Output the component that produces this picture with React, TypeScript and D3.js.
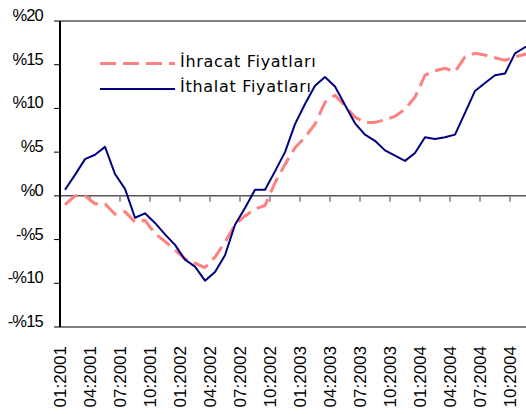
import React from "react";
import * as d3 from "d3";

const categories: string[] = [
  "01:2001","02:2001","03:2001","04:2001","05:2001","06:2001","07:2001","08:2001","09:2001","10:2001","11:2001","12:2001",
  "01:2002","02:2002","03:2002","04:2002","05:2002","06:2002","07:2002","08:2002","09:2002","10:2002","11:2002","12:2002",
  "01:2003","02:2003","03:2003","04:2003","05:2003","06:2003","07:2003","08:2003","09:2003","10:2003","11:2003","12:2003",
  "01:2004","02:2004","03:2004","04:2004","05:2004","06:2004","07:2004","08:2004","09:2004","10:2004","11:2004","12:2004",
];

const ihracat: number[] = [
  -1.0, 0.0, 0.0, -0.9, -0.9, -2.1, -1.8, -3.0, -2.8, -4.3, -5.2, -6.2,
  -7.2, -7.7, -8.2, -7.0, -5.3, -3.3, -2.3, -1.5, -1.1, 1.5, 3.6, 5.5,
  6.7, 8.2, 10.7, 11.5, 10.3, 9.0, 8.4, 8.4, 8.7, 9.1, 9.9, 11.3,
  13.8, 14.3, 14.6, 14.2, 15.9, 16.3, 16.1, 15.8, 15.5, 15.9, 16.2, 16.3,
];

const ithalat: number[] = [
  0.7, 2.4, 4.2, 4.7, 5.6, 2.5, 0.8, -2.5, -2.0, -3.1, -4.4, -5.6,
  -7.3, -8.1, -9.7, -8.7, -6.8, -3.3, -1.4, 0.7, 0.7, 2.8, 5.0, 8.2,
  10.5, 12.6, 13.6, 12.5, 10.4, 8.3, 7.0, 6.3, 5.2, 4.6, 4.0, 4.9,
  6.7, 6.5, 6.7, 7.0, 9.5, 12.0, 12.9, 13.8, 14.0, 16.3, 17.0, 17.5,
];

const yTicks: number[] = [20, 15, 10, 5, 0, -5, -10, -15];
const yTickLabels: string[] = ["%20", "%15", "%10", "%5", "%0", "-%5", "-%10", "-%15"];
const seriesNames: string[] = ["İhracat Fiyatları", "İthalat Fiyatları"];

const W = 526;
const H = 414;
const left = 60;
const right = 540;
const top = 21;
const bottom = 327;

export default function App() {
  const x = d3.scaleBand<string>().domain(categories).range([left, right]).paddingInner(0).paddingOuter(0);
  const bw = x.bandwidth();
  const y = d3.scaleLinear().domain([-15, 20]).range([bottom, top]);
  const cx = (i: number) => (x(categories[i]) as number) + bw / 2;
  const line = d3
    .line<number>()
    .x((_, i) => cx(i))
    .y((d) => y(d));

  const tickCats = categories.filter((_, i) => i % 3 === 0);

  return (
    <svg
      width={W}
      height={H}
      style={{ position: "absolute", left: 0, top: 0, background: "#fff" }}
    >
      <rect x={0} y={0} width={W} height={H} fill="#fff" />
      {/* plot border lines */}
      <line x1={left} x2={W} y1={top} y2={top} stroke="#000" strokeWidth={1} />
      <line x1={left} x2={W} y1={bottom} y2={bottom} stroke="#000" strokeWidth={1} />
      {/* zero line */}
      <line x1={left} x2={W} y1={y(0)} y2={y(0)} stroke="#000" strokeWidth={1} />
      {/* x ticks */}
      {tickCats.map((c) => (
        <line
          key={"xt" + c}
          x1={x(c) as number}
          x2={x(c) as number}
          y1={y(0)}
          y2={y(0) + 6}
          stroke="#808080"
          strokeWidth={1.5}
        />
      ))}
      {/* y axis */}
      <line x1={left} x2={left} y1={top} y2={bottom} stroke="#000" strokeWidth={2} />
      {yTicks.map((v, i) => (
        <g key={"yt" + v}>
          <line x1={left - 6} x2={left} y1={y(v)} y2={y(v)} stroke="#000" strokeWidth={1} />
          <text
            x={43}
            y={y(v)}
            textAnchor="end"
            fontFamily="'Liberation Sans', Arial, sans-serif"
            fontSize={16.5}
            letterSpacing={-0.8}
            fill="#000"
          >
            {yTickLabels[i]}
          </text>
        </g>
      ))}
      {/* x labels */}
      {tickCats.map((c) => (
        <text
          key={"xl" + c}
          transform={`translate(${(x(c) as number) + 6},346) rotate(-90)`}
          textAnchor="end"
          fontFamily="'Liberation Sans', Arial, sans-serif"
          fontSize={17}
          fill="#000"
        >
          {c}
        </text>
      ))}
      {/* series */}
      <path
        d={line(ihracat) || ""}
        fill="none"
        stroke="#FF8080"
        strokeWidth={3}
        strokeDasharray="16,7"
        strokeLinejoin="round"
      />
      <path
        d={line(ithalat) || ""}
        fill="none"
        stroke="#000080"
        strokeWidth={2}
        strokeLinejoin="round"
      />
      {/* legend */}
      <line x1={100} x2={175} y1={63.5} y2={63.5} stroke="#FF8080" strokeWidth={3} strokeDasharray="16,7" />
      <line x1={100} x2={175} y1={89} y2={89} stroke="#000080" strokeWidth={2} />
      <text x={180} y={67} fontFamily="'DejaVu Sans', Verdana, sans-serif" fontSize={16} letterSpacing={0.7} fill="#000">
        {seriesNames[0]}
      </text>
      <text x={180} y={92} fontFamily="'DejaVu Sans', Verdana, sans-serif" fontSize={16} letterSpacing={0.7} fill="#000">
        {seriesNames[1]}
      </text>
    </svg>
  );
}
